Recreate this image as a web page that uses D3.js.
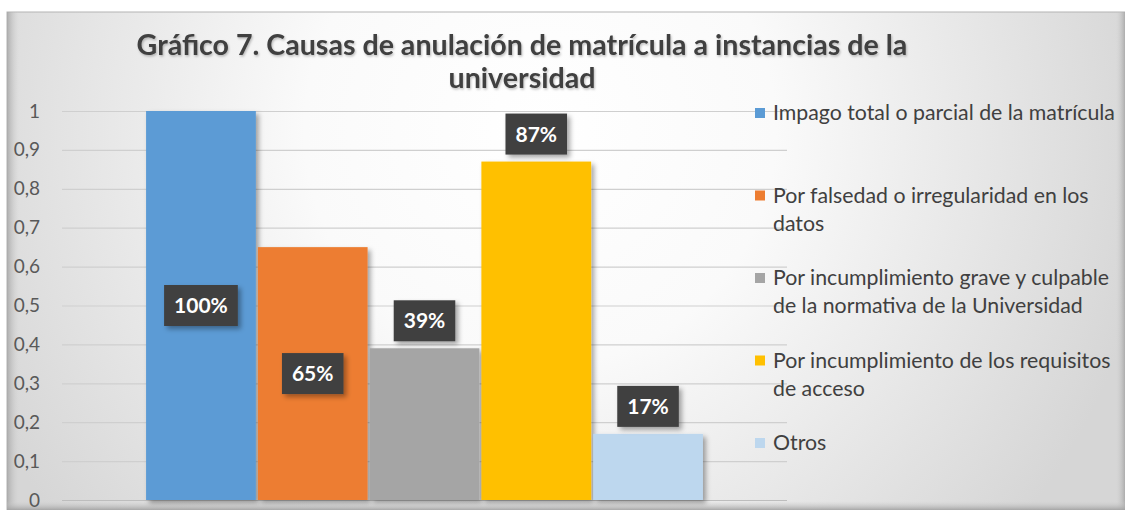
<!DOCTYPE html>
<html>
<head>
<meta charset="utf-8">
<script src="https://cdn.jsdelivr.net/npm/d3@7"></script>
<style>
  html, body { margin: 0; padding: 0; background: #ffffff; }
  svg { display: block; font-family: Lato, "Open Sans", sans-serif; }
</style>
</head>
<body>
<div id="chart"></div>
<script>

// data
var series = [
    'Impago total o parcial de la matrícula',
    'Por falsedad o irregularidad en los datos',
    'Por incumplimiento grave y culpable de la normativa de la Universidad',
    'Por incumplimiento de los requisitos de acceso',
    'Otros'
];
var values = [1, 0.65, 0.39, 0.87, 0.17];
var labels = ['100%', '65%', '39%', '87%', '17%'];
var label_modes = ['center', 'center', 'end', 'end', 'end'];
var legend_lines = [
    ['Impago total o parcial de la matrícula'],
    ['Por falsedad o irregularidad en los', 'datos'],
    ['Por incumplimiento grave y culpable', 'de la normativa de la Universidad'],
    ['Por incumplimiento de los requisitos', 'de acceso'],
    ['Otros']
];
var y_ticks = [0, 0.1, 0.2, 0.3, 0.4, 0.5, 0.6, 0.7, 0.8, 0.9, 1];
var title_lines = [
    'Gráfico 7. Causas de anulación de matrícula a instancias de la',
    'universidad'
];

var COLORS = ['#5b9bd5', '#ed7d31', '#a5a5a5', '#ffc000', '#bdd7ee'];

var W = 1125, H = 510;
var frame = {x: 7, y: 12, w: 1120, h: 500};
var plot = {left: 62, right: 787, top: 111, bottom: 500};

var svg = d3.select('#chart').append('svg')
    .attr('width', W)
    .attr('height', H);

var defs = svg.append('defs');

var bg = defs.append('radialGradient')
    .attr('id', 'bg')
    .attr('gradientUnits', 'userSpaceOnUse')
    .attr('cx', 540).attr('cy', 130).attr('r', 620);
bg.append('stop').attr('offset', '0').attr('stop-color', '#ffffff');
bg.append('stop').attr('offset', '0.38').attr('stop-color', '#fafafa');
bg.append('stop').attr('offset', '1').attr('stop-color', '#d6d6d6');

var edge_l = defs.append('linearGradient').attr('id', 'edge_l')
    .attr('x1', 0).attr('x2', 1).attr('y1', 0).attr('y2', 0);
edge_l.append('stop').attr('offset', '0').attr('stop-color', '#a8a8a8').attr('stop-opacity', 0.9);
edge_l.append('stop').attr('offset', '1').attr('stop-color', '#d0d0d0').attr('stop-opacity', 0);

var edge_b = defs.append('linearGradient').attr('id', 'edge_b')
    .attr('x1', 0).attr('x2', 0).attr('y1', 0).attr('y2', 1);
edge_b.append('stop').attr('offset', '0').attr('stop-color', '#d0d0d0').attr('stop-opacity', 0);
edge_b.append('stop').attr('offset', '1').attr('stop-color', '#a0a0a0').attr('stop-opacity', 0.9);

var edge_r = defs.append('linearGradient').attr('id', 'edge_r')
    .attr('x1', 0).attr('x2', 1).attr('y1', 0).attr('y2', 0);
edge_r.append('stop').attr('offset', '0').attr('stop-color', '#d0d0d0').attr('stop-opacity', 0);
edge_r.append('stop').attr('offset', '1').attr('stop-color', '#a8a8a8').attr('stop-opacity', 0.9);

defs.append('filter').attr('id', 'shadow')
    .attr('x', '-20%').attr('y', '-20%').attr('width', '150%').attr('height', '150%')
    .append('feDropShadow')
    .attr('dx', 3).attr('dy', 3).attr('stdDeviation', 2.5)
    .attr('flood-color', '#000').attr('flood-opacity', 0.35);

defs.append('filter').attr('id', 'tshadow')
    .attr('x', '-5%').attr('y', '-20%').attr('width', '110%').attr('height', '150%')
    .append('feDropShadow')
    .attr('dx', 1).attr('dy', 1.5).attr('stdDeviation', 1)
    .attr('flood-color', '#000').attr('flood-opacity', 0.25);

// chart area with bevel
svg.append('rect')
    .attr('x', frame.x).attr('y', frame.y)
    .attr('width', frame.w).attr('height', frame.h)
    .attr('fill', 'url(#bg)')
    .attr('stroke', '#b4b4b4');
svg.append('rect')
    .attr('x', frame.x).attr('y', frame.y)
    .attr('width', 12).attr('height', frame.h)
    .attr('fill', 'url(#edge_l)');
svg.append('rect')
    .attr('x', W - 9).attr('y', frame.y)
    .attr('width', 9).attr('height', frame.h)
    .attr('fill', 'url(#edge_r)');
svg.append('rect')
    .attr('x', frame.x).attr('y', H - 9)
    .attr('width', frame.w).attr('height', 9)
    .attr('fill', 'url(#edge_b)');

// scales
var sy = d3.scaleLinear()
    .domain([0, 1])
    .range([plot.bottom, plot.top]);

var sx0 = d3.scaleBand()
    .domain(['all'])
    .range([plot.left, plot.right])
    .paddingInner(0)
    .paddingOuter(0.151);

var sx = d3.scaleBand()
    .domain(series)
    .range([sx0('all'), sx0('all') + sx0.bandwidth()])
    .paddingInner(0.018);

// grid + y axis
var ay = d3.axisLeft(sy)
    .tickValues(y_ticks)
    .tickSize(-(plot.right - plot.left))
    .tickPadding(22)
    .tickFormat(function(d) { return d3.format('.1~f')(d).replace('.', ','); });

var gy = svg.append('g')
    .attr('transform', 'translate(' + plot.left + ',0)')
    .call(ay);
gy.select('.domain').remove();
gy.selectAll('.tick line')
    .attr('stroke', '#cfcfcf')
    .attr('stroke-width', 1.2);
gy.selectAll('.tick text')
    .attr('fill', '#595959')
    .attr('font-size', 19)
    .attr('font-family', 'Lato, sans-serif');
gy.selectAll('.tick')
    .filter(function(d) { return d === 0; })
    .select('line')
    .attr('stroke', '#bdbdbd');

// bars
var bars = svg.append('g');
bars.selectAll('rect')
    .data(values)
    .enter().append('rect')
    .attr('x', function(d, i) { return sx(series[i]); })
    .attr('y', function(d) { return sy(d); })
    .attr('width', sx.bandwidth())
    .attr('height', function(d) { return sy(0) - sy(d); })
    .attr('fill', function(d, i) { return COLORS[i]; })
    .attr('filter', 'url(#shadow)');

// data labels
var lab = svg.append('g');
values.forEach(function(v, i) {
    var cx = sx(series[i]) + sx.bandwidth() / 2;
    var bh = 41;
    var cy;
    if (label_modes[i] == 'center') {
        cy = (sy(v) + sy(0)) / 2;
    } else {
        cy = sy(v) - 7 - bh / 2;
    }
    var g = lab.append('g');
    var t = g.append('text')
        .attr('x', cx)
        .attr('y', cy)
        .attr('dy', '0.36em')
        .attr('text-anchor', 'middle')
        .attr('fill', '#ffffff')
        .attr('font-weight', 'bold')
        .attr('font-size', 21)
        .text(labels[i]);
    var tw = t.node().getComputedTextLength();
    g.insert('rect', 'text')
        .attr('x', cx - tw / 2 - 10)
        .attr('y', cy - bh / 2)
        .attr('width', tw + 20)
        .attr('height', bh)
        .attr('fill', '#404040')
        .attr('filter', 'url(#shadow)');
});

// title
svg.append('g')
    .selectAll('text')
    .data(title_lines)
    .enter().append('text')
    .attr('x', 522)
    .attr('y', function(d, i) { return 55 + i * 33; })
    .attr('text-anchor', 'middle')
    .attr('font-weight', 'bold')
    .attr('font-size', 28.6)
    .attr('fill', '#404040')
    .attr('filter', 'url(#tshadow)')
    .text(function(d) { return d; });

// legend
var legend = svg.append('g');
legend_lines.forEach(function(lines, i) {
    var y0 = 113 + 82.5 * i;
    legend.append('rect')
        .attr('x', 755)
        .attr('y', y0 - 5)
        .attr('width', 10)
        .attr('height', 10)
        .attr('fill', COLORS[i]);
    lines.forEach(function(s, j) {
        legend.append('text')
            .attr('x', 773)
            .attr('y', y0 + j * 28)
            .attr('dy', '0.35em')
            .attr('font-size', 21.3)
            .attr('fill', '#404040')
            .text(s);
    });
});

</script>
</body>
</html>
